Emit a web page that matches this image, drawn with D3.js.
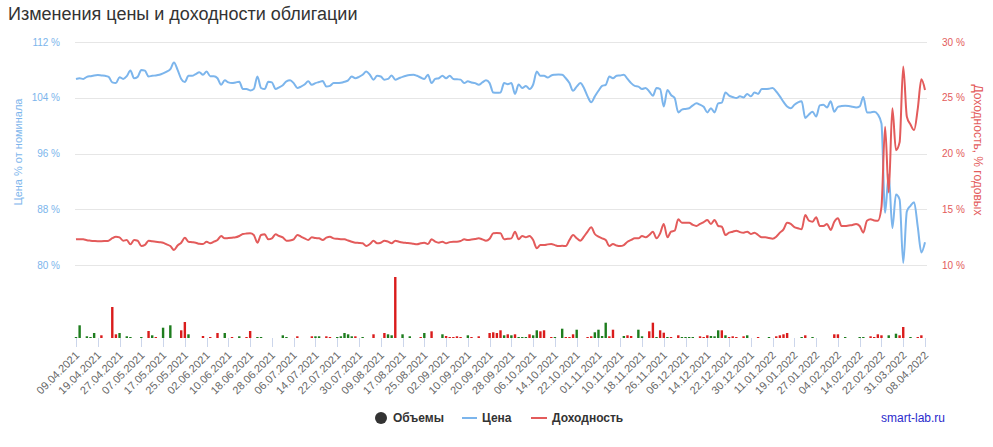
<!DOCTYPE html>
<html><head><meta charset="utf-8">
<script src="https://cdn.jsdelivr.net/npm/d3@7"></script>
<style>
body{margin:0;background:#fff;}
svg{display:block;font-family:"Liberation Sans",Arial,Helvetica,sans-serif;}
</style>
</head><body>
<svg id="c" width="993" height="447"></svg>
<script>
const chartTitle = "Изменения цены и доходности облигации";
const xLabels = ["09.04.2021","19.04.2021","27.04.2021","07.05.2021","17.05.2021","25.05.2021","02.06.2021","10.06.2021","18.06.2021","28.06.2021","06.07.2021","14.07.2021","22.07.2021","30.07.2021","09.08.2021","17.08.2021","25.08.2021","02.09.2021","10.09.2021","20.09.2021","28.09.2021","06.10.2021","14.10.2021","22.10.2021","01.11.2021","10.11.2021","18.11.2021","26.11.2021","06.12.2021","14.12.2021","22.12.2021","30.12.2021","11.01.2022","19.01.2022","27.01.2022","04.02.2022","14.02.2022","22.02.2022","31.03.2022","08.04.2022"];
const labelStep = 6;
const priceTicks = [80, 88, 96, 104, 112];
const yieldTicks = [10, 15, 20, 25, 30];

const price = [
106.7,106.8,106.7,107.0,107.1,107.2,107.25,107.2,107.15,107.0,
106.2,106.1,106.95,106.7,107.1,107.9,106.8,107.0,108.0,107.9,
107.05,107.15,107.2,107.3,107.5,107.75,108.1,109.05,108.0,106.7,
106.25,107.15,107.15,107.4,107.65,107.3,107.75,107.1,107.1,106.8,
105.85,106.5,106.2,106.1,106.2,106.3,105.25,105.25,105.05,105.25,
107.05,105.4,105.25,106.3,106.2,105.25,105.5,105.8,106.35,106.5,
106.1,105.4,105.6,105.9,106.35,105.85,106.1,106.25,106.4,105.6,
105.7,106.1,106.1,106.15,106.3,106.5,107.05,106.8,107.0,107.3,
107.75,107.3,106.6,107.15,107.05,106.6,106.7,107.2,106.6,106.8,
107.0,107.15,107.25,107.3,107.15,106.9,106.7,107.3,106.1,106.7,
106.8,107.15,106.8,107.15,106.7,106.65,106.6,106.1,106.35,106.2,
106.1,105.85,106.2,106.5,106.1,104.75,104.7,104.75,106.1,105.95,
106.1,104.55,105.9,105.4,105.7,105.25,105.9,107.75,107.15,107.15,
106.9,107.2,107.3,107.35,107.3,106.8,106.1,105.0,105.6,106.1,
105.4,104.2,103.35,104.2,105.0,105.7,105.85,107.05,106.8,107.15,
107.2,107.3,106.7,106.1,105.7,105.6,105.25,105.4,104.9,104.3,
105.4,105.25,102.75,105.1,104.4,103.95,101.9,102.3,102.4,102.5,
102.9,103.2,103.0,102.7,101.9,102.5,101.9,103.2,103.3,104.75,
104.3,104.1,103.95,104.2,104.05,104.55,104.2,104.75,104.55,105.25,
105.25,105.3,105.4,104.9,104.2,103.4,102.75,102.5,103.0,103.35,
103.5,101.1,101.6,102.0,101.3,102.9,103.0,102.6,103.5,102.0,
102.7,102.8,102.85,102.8,102.7,102.6,102.75,104.1,101.9,101.9,
102.0,101.6,100.3,87.5,93.0,85.3,90.1,89.4,80.3,87.7,
88.5,89.0,85.5,81.8,83.25
];

const yieldPct = [
12.3,12.32,12.3,12.22,12.18,12.15,12.13,12.13,12.15,12.18,
12.4,12.54,12.48,12.18,12.24,11.86,12.24,12.18,11.7,11.8,
12.18,12.12,12.09,12.05,12.0,11.85,11.7,11.35,11.75,12.0,
12.45,12.09,12.05,12.0,11.9,11.88,12.09,11.95,12.09,12.24,
12.6,12.39,12.42,12.45,12.48,12.6,12.78,12.82,12.84,12.69,
12.0,12.69,12.75,12.3,12.39,12.75,12.6,12.48,12.18,12.2,
12.3,12.69,12.55,12.39,12.24,12.48,12.42,12.39,12.24,12.45,
12.54,12.39,12.35,12.32,12.3,12.2,12.09,12.0,11.98,11.95,
11.7,11.88,12.18,11.95,12.0,12.18,12.1,11.95,12.18,12.09,
12.02,11.98,11.95,11.9,11.86,11.95,12.0,11.88,12.3,12.09,
12.0,12.09,11.95,12.05,12.09,12.09,12.15,12.3,12.24,12.28,
12.33,12.39,12.3,12.18,12.35,12.84,12.86,12.84,12.3,12.35,
12.39,12.99,12.3,12.6,12.48,12.6,12.24,11.5,11.79,11.79,
11.85,11.88,11.78,11.7,11.72,11.7,12.24,12.69,12.4,12.18,
12.54,13.0,13.38,12.78,12.55,12.39,12.24,11.7,11.88,11.75,
11.7,11.79,12.09,12.25,12.39,12.39,12.6,12.48,12.69,12.99,
12.39,12.84,13.68,12.48,12.99,13.08,14.1,13.79,13.8,13.79,
13.6,13.5,13.68,13.85,14.04,13.68,14.04,13.5,13.43,12.69,
12.9,12.99,13.08,12.95,12.9,12.99,12.78,12.9,12.69,12.48,
12.48,12.42,12.36,12.54,12.9,13.2,13.79,13.68,13.4,13.29,
13.2,14.48,13.97,13.88,14.28,13.5,13.5,13.68,13.14,13.88,
14.19,13.5,13.5,13.55,13.59,13.68,13.5,12.9,13.97,14.1,
14.0,13.97,15.2,22.4,16.5,24.05,20.3,21.0,27.8,23.3,
22.6,22.1,24.0,26.65,25.7
];

const volume = [
1,12.7,0,1.7,1,5,0,2.7,0,0,
31,3.7,5,0,1.7,1,0,0,1,0,
7,2.7,1,0,10.3,0,12.7,0,0,7.7,
16,3.7,0,0,0,2,0,1,0,5,
0,5,0,1,0,1.7,0,1,7,0,
1,1,0,0,0,0,0,2.7,1,0,
0,1.7,0,0,0,1.7,1.7,1.7,0,1.7,
1,0,1,1.7,5,3.7,1.7,1.7,0,1,
0,0,3.7,0,0,5,3.7,2.7,61,0,
3.7,0,1.7,0,0,1,5,0,6.7,0,
0,3.7,2,1,1,1.7,1,0,2.7,1,
0,1.7,0,0,5,5.7,5,7.7,2.7,3.7,
2.7,3.7,1,1,1,3.7,2.7,7.7,6.7,7.7,
0,1,1,0,9.3,1,1,3.7,8.3,0,
0,1,1.7,5.7,8.3,2,15.3,1.7,8.3,0,
0,2,2.7,2,0,8.3,1.7,0,6.7,15.3,
1,7.7,5.3,1,1,0,2.7,1,1,1,
1,0,1.7,1,2.7,2,1.7,7.7,7.7,2.7,
1,1.7,1,0,1.7,2.7,0,0,1,0,
0,1,0,1.7,2.7,3.7,5,0,0,0,
1,2.7,0,1,0,0,0,0,0,3.7,
3.7,0,1,0,0,0,1,1,0,1.7,
1,3.7,2.7,0,2.7,0,4.3,2.7,11,0,
1,0,1,2.7,0
];

const volumeUp = [
1,1,0,1,1,1,0,0,0,0,
0,0,1,0,1,1,0,0,1,0,
0,1,0,0,1,0,1,0,0,0,
0,1,0,0,0,0,0,0,0,0,
0,1,0,0,0,1,0,0,0,0,
1,1,0,0,0,0,0,1,1,0,
0,0,0,0,0,0,1,1,0,0,
0,0,1,1,1,1,1,0,0,1,
0,0,0,0,0,0,1,1,0,0,
1,0,1,0,0,0,1,0,0,0,
0,1,0,0,0,0,0,0,1,0,
0,0,0,0,0,0,0,0,1,0,
1,0,1,1,1,0,1,1,0,0,
0,0,1,0,1,0,0,0,1,0,
0,0,0,1,1,1,1,0,0,0,
0,1,0,0,0,1,1,0,0,0,
1,0,0,1,0,0,0,1,1,1,
1,0,0,0,0,1,1,1,0,1,
0,0,0,0,0,1,0,0,0,0,
0,1,0,0,0,0,0,0,0,0,
1,0,0,1,0,0,0,0,0,0,
0,0,1,0,0,0,1,1,0,0,
0,0,0,0,1,0,1,0,0,0,
1,0,0,0,0
];

const seriesNames = ["Объемы", "Цена", "Доходность"];
const colors = {price:"#7cb5ec", yield:"#e35b5b", up:"#1e7d1e", down:"#da1c1c", vol:"#333333"};

const svg = d3.select("#c");
const n = price.length;
const plotL = 75, plotR = 927, plotT = 42, plotB = 265, volB = 338, volT = 277;

const x = d3.scaleLinear().domain([0, n - 1]).range([76, 925]);
const yL = d3.scaleLinear().domain([80, 112]).range([plotB, plotT]);
const yR = d3.scaleLinear().domain([10, 30]).range([plotB, plotT]);
const yV = d3.scaleLinear().domain([0, d3.max(volume)]).range([volB, volT]);

// title
svg.append("text").attr("x", 8).attr("y", 20).attr("font-size", 18).attr("fill", "#333")
  .text(chartTitle);

// grid
svg.append("g").selectAll("line").data(priceTicks).join("line")
  .attr("x1", plotL).attr("x2", plotR)
  .attr("y1", d => Math.round(yL(d)) + 0.5).attr("y2", d => Math.round(yL(d)) + 0.5)
  .attr("stroke", "#e6e6e6");

// left axis
const gL = svg.append("g").attr("transform", `translate(${plotL},0)`)
  .call(d3.axisLeft(yL).tickValues(priceTicks).tickSize(0).tickPadding(15).tickFormat(d => d + " %"));
gL.select(".domain").remove();
gL.selectAll("text").attr("fill", colors.price).attr("font-size", 10).attr("font-family", "Liberation Sans, Arial, sans-serif");

// right axis
const gR = svg.append("g").attr("transform", `translate(${plotR},0)`)
  .call(d3.axisRight(yR).tickValues(yieldTicks).tickSize(0).tickPadding(15).tickFormat(d => d + " %"));
gR.select(".domain").remove();
gR.selectAll("text").attr("fill", colors.yield).attr("font-size", 10).attr("font-family", "Liberation Sans, Arial, sans-serif");

// axis titles
svg.append("text").attr("transform", "translate(22,152) rotate(-90)").attr("text-anchor", "middle")
  .attr("font-size", 11).attr("fill", colors.price).text("Цена % от номинала");
svg.append("text").attr("transform", "translate(974,150) rotate(90)").attr("text-anchor", "middle")
  .attr("font-size", 12).attr("fill", colors.yield).text("Доходность, % годовых");

// volume bars
svg.append("g").selectAll("rect").data(volume.map((v, i) => ({v, i, up: volumeUp[i]}))
  .filter(d => d.v > 0)).join("rect")
  .attr("x", d => x(d.i) - 1.2).attr("width", 2.4)
  .attr("y", d => yV(d.v)).attr("height", d => volB - yV(d.v))
  .attr("fill", d => d.up ? colors.up : colors.down);

// x ticks and labels
const tickIdx = xLabels.map((l, k) => k * labelStep);
const gx = svg.append("g");
gx.selectAll("line").data(tickIdx).join("line")
  .attr("x1", d => Math.round(x(d)) + 0.5).attr("x2", d => Math.round(x(d)) + 0.5)
  .attr("y1", volB).attr("y2", volB + 9).attr("stroke", "#ccd6eb");
gx.selectAll("text").data(xLabels).join("text")
  .attr("transform", (d, k) => `translate(${x(k * labelStep) + 4},${volB + 18}) rotate(-45)`)
  .attr("text-anchor", "end").attr("font-size", 11).attr("fill", "#666").text(d => d);

// lines
const linePrice = d3.line().x((d, i) => x(i)).y(d => yL(d)).curve(d3.curveMonotoneX);
const lineYield = d3.line().x((d, i) => x(i)).y(d => yR(d)).curve(d3.curveMonotoneX);
svg.append("path").attr("d", linePrice(price)).attr("fill", "none")
  .attr("stroke", colors.price).attr("stroke-width", 2).attr("stroke-linejoin", "round");
svg.append("path").attr("d", lineYield(yieldPct)).attr("fill", "none")
  .attr("stroke", colors.yield).attr("stroke-width", 2).attr("stroke-linejoin", "round");

// legend
const lg = svg.append("g").attr("font-size", 12).attr("font-weight", "bold").attr("fill", "#333");
lg.append("circle").attr("cx", 381).attr("cy", 418).attr("r", 6).attr("fill", colors.vol);
lg.append("text").attr("x", 393).attr("y", 422).text(seriesNames[0]);
lg.append("line").attr("x1", 462).attr("x2", 477).attr("y1", 418).attr("y2", 418)
  .attr("stroke", colors.price).attr("stroke-width", 2);
lg.append("text").attr("x", 482).attr("y", 422).text(seriesNames[1]);
lg.append("line").attr("x1", 531).attr("x2", 547).attr("y1", 418).attr("y2", 418)
  .attr("stroke", colors.yield).attr("stroke-width", 2);
lg.append("text").attr("x", 552).attr("y", 422).text(seriesNames[2]);

// credit
svg.append("text").attr("x", 881).attr("y", 422).attr("font-size", 12).attr("fill", "#2a2acc")
  .text("smart-lab.ru");
</script>
</body></html>
